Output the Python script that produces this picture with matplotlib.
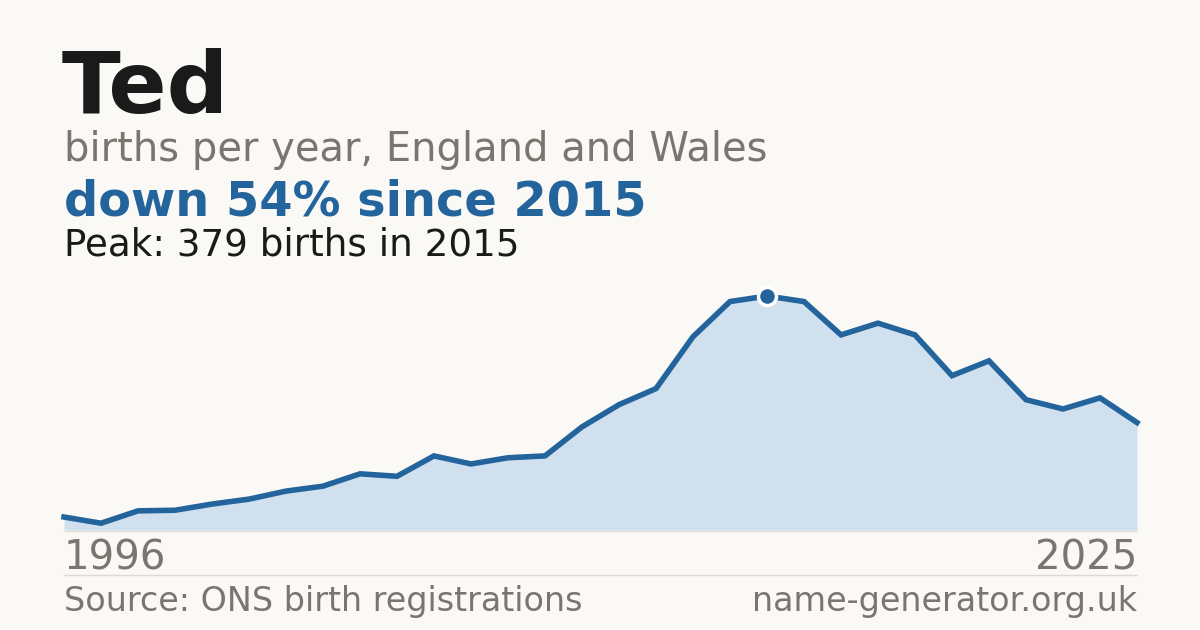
import matplotlib
matplotlib.use("Agg")
import matplotlib.pyplot as plt
from matplotlib.lines import Line2D

years = list(range(1996, 2026))
births = [21, 11, 31, 32, 42, 50, 63, 71, 91, 87, 120, 107, 117, 120, 167,
          203, 229, 313, 370, 379, 370, 316, 335, 316, 250, 274, 211, 196, 214, 174]
peak_year = 2015
peak_value = 379

BG = "#faf9f5"
BLUE = "#23649c"
FILL = "#d0e0ef"
GREY = "#7a756f"
DARK = "#1a1a1a"

W, H = 1200, 630
fig = plt.figure(figsize=(12, 6.3), dpi=100, facecolor=BG)

def fx(px):
    return px / W

def fy(py):
    return 1 - py / H

ax = fig.add_axes([fx(64), fy(530), fx(1137) - fx(64), fy(296) - fy(530)])
ax.set_facecolor(BG)
ax.fill_between(years, births, 0, color=FILL, linewidth=0)
ax.plot(years, births, color=BLUE, linewidth=4.0, solid_joinstyle="miter", clip_on=False)
ax.plot([peak_year], [peak_value], "o", color=BLUE, markersize=13,
        markeredgecolor="white", markeredgewidth=2.5, clip_on=False, zorder=5)
ax.set_xlim(years[0], years[-1])
ax.set_ylim(0, peak_value)
ax.axis("off")

fig.add_artist(Line2D([fx(64), fx(1137)], [fy(530.5), fy(530.5)], color="#e2ddd4", lw=1))
fig.add_artist(Line2D([fx(64), fx(1137)], [fy(574.5), fy(574.5)], color="#dedad2", lw=1))

fig.text(fx(62), fy(113), "Ted", fontsize=62, fontweight="bold", color=DARK, va="baseline")
fig.text(fx(64), fy(161), "births per year, England and Wales", fontsize=28.8, color=GREY, va="baseline")
fig.text(fx(64), fy(215), "down 54% since 2015", fontsize=34.5, fontweight="bold", color=BLUE, va="baseline")
fig.text(fx(64), fy(255), "Peak: 379 births in 2015", fontsize=26.8, color=DARK, va="baseline")

fig.text(fx(64), fy(569), str(years[0]), fontsize=29, color=GREY, va="baseline")
fig.text(fx(1137), fy(569), str(years[-1]), fontsize=29, color=GREY, va="baseline", ha="right")

fig.text(fx(64), fy(611), "Source: ONS birth registrations", fontsize=24, color=GREY, va="baseline")
fig.text(fx(1137), fy(611), "name-generator.org.uk", fontsize=24, color=GREY, va="baseline", ha="right")

fig.savefig("out.png", dpi=100, facecolor=BG)
